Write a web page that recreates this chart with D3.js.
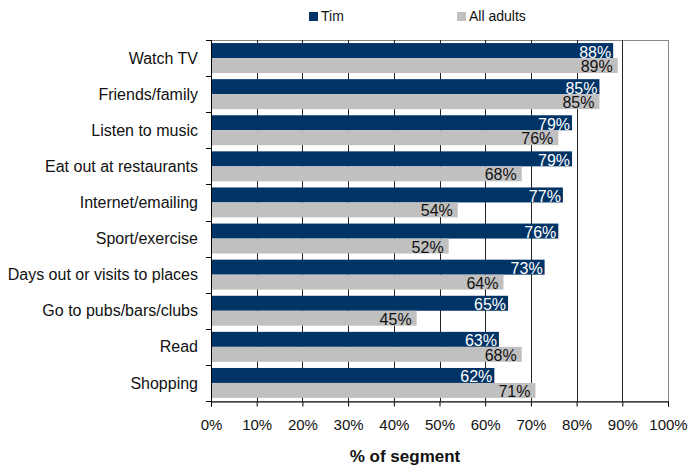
<!DOCTYPE html>
<html>
<head>
<meta charset="utf-8">
<script src="https://cdn.jsdelivr.net/npm/d3@7"></script>
<style>
  html, body { margin: 0; padding: 0; background: #fff; }
  svg { display: block; font-family: "Liberation Sans", Arial, sans-serif; }
</style>
</head>
<body>
<svg id="chart" width="695" height="467"></svg>
<script>
// Leisure activities: share of segment ("Tim") vs all adults
const categories = ["Watch TV", "Friends/family", "Listen to music", "Eat out at restaurants",
  "Internet/emailing", "Sport/exercise", "Days out or visits to places",
  "Go to pubs/bars/clubs", "Read", "Shopping"];
const seriesNames = ["Tim", "All adults"];
const timValues = [88, 85, 79, 79, 77, 76, 73, 65, 63, 62];
const adultValues = [89, 85, 76, 68, 54, 52, 64, 45, 68, 71];
const xTicks = [0, 10, 20, 30, 40, 50, 60, 70, 80, 90, 100];
const xTitle = "% of segment";

const colors = { "Tim": "#003366", "All adults": "#c0c0c0" };
const labelColors = { "Tim": "#ffffff", "All adults": "#111111" };

const svg = d3.select("#chart");
const plot = { left: 211, right: 668, top: 40, bottom: 401 };

const x = d3.scaleLinear().domain([0, 100]).range([plot.left, plot.right]);
const y = d3.scaleBand().domain(categories).range([plot.top, plot.bottom]).paddingInner(0.17).paddingOuter(0.085);
const ySub = d3.scaleBand().domain(seriesNames).range([0, y.bandwidth()]);

const rows = categories.map((c, i) => ({ category: c, values: [
  { series: "Tim", value: timValues[i] },
  { series: "All adults", value: adultValues[i] }
]}));

// Plot area border
svg.append("rect")
  .attr("x", plot.left + 0.5).attr("y", plot.top + 0.5)
  .attr("width", plot.right - plot.left).attr("height", plot.bottom - plot.top)
  .attr("fill", "none").attr("stroke", "#888");

// Vertical gridlines
svg.append("g")
  .selectAll("line")
  .data(xTicks.filter(t => t > 0 && t < 100))
  .join("line")
  .attr("x1", d => Math.round(x(d)) + 0.5).attr("x2", d => Math.round(x(d)) + 0.5)
  .attr("y1", plot.top).attr("y2", plot.bottom)
  .attr("stroke", "#222").attr("stroke-width", 1);

// Bars
const groups = svg.append("g").selectAll("g")
  .data(rows)
  .join("g")
  .attr("transform", d => `translate(0,${y(d.category)})`);

groups.selectAll("rect")
  .data(d => d.values)
  .join("rect")
  .attr("x", x(0))
  .attr("y", d => ySub(d.series))
  .attr("width", d => x(d.value) - x(0))
  .attr("height", ySub.bandwidth())
  .attr("fill", d => colors[d.series]);

// Value labels at the bar ends
groups.selectAll("text")
  .data(d => d.values)
  .join("text")
  .attr("x", d => x(d.value) - (d.series === "Tim" ? 2 : 5))
  .attr("y", d => ySub(d.series) + ySub.bandwidth() - (d.series === "Tim" ? 0.5 : 1))
  .attr("text-anchor", "end")
  .attr("font-size", 16)
  .attr("fill", d => labelColors[d.series])
  .text(d => d.value + "%");

// X axis
const xAxis = svg.append("g")
  .attr("transform", `translate(0,${plot.bottom + 0.5})`)
  .call(d3.axisBottom(x).tickValues(xTicks).tickFormat(d => d + "%").tickSize(5).tickPadding(13));
xAxis.select(".domain").attr("stroke", "#000");
xAxis.selectAll(".tick line").attr("stroke", "#000");
xAxis.selectAll(".tick text")
  .attr("font-size", 15).attr("fill", "#111")
  .attr("font-family", "Liberation Sans, Arial, sans-serif");

// Y axis line with ticks between categories
const yAxis = svg.append("g");
yAxis.append("line")
  .attr("x1", plot.left + 0.5).attr("x2", plot.left + 0.5)
  .attr("y1", plot.top).attr("y2", plot.bottom + 1)
  .attr("stroke", "#000");
const boundaries = categories.map(c => y(c) - y.step() * y.paddingInner() / 2).concat([plot.bottom]);
yAxis.selectAll("line.tick")
  .data(boundaries)
  .join("line")
  .attr("class", "tick")
  .attr("x1", plot.left - 5).attr("x2", plot.left)
  .attr("y1", d => Math.round(d) + 0.5).attr("y2", d => Math.round(d) + 0.5)
  .attr("stroke", "#000");
yAxis.selectAll("text")
  .data(categories)
  .join("text")
  .attr("x", plot.left - 13)
  .attr("y", d => y(d) + y.bandwidth() / 2)
  .attr("dy", "0.35em")
  .attr("text-anchor", "end")
  .attr("font-size", 16)
  .attr("fill", "#111")
  .text(d => d);

// Axis title
svg.append("text")
  .attr("x", 405).attr("y", 462)
  .attr("text-anchor", "middle")
  .attr("font-size", 17).attr("font-weight", "bold")
  .attr("fill", "#111")
  .text(xTitle);

// Legend
const legendPos = [309, 457];
const legend = svg.append("g").selectAll("g")
  .data(seriesNames)
  .join("g")
  .attr("transform", (d, i) => `translate(${legendPos[i]},12)`);
legend.append("rect").attr("width", 9).attr("height", 9).attr("fill", d => colors[d]);
legend.append("text")
  .attr("x", 12).attr("y", 4).attr("dy", "0.35em")
  .attr("font-size", 14).attr("fill", "#111")
  .text(d => d);
</script>
</body>
</html>
